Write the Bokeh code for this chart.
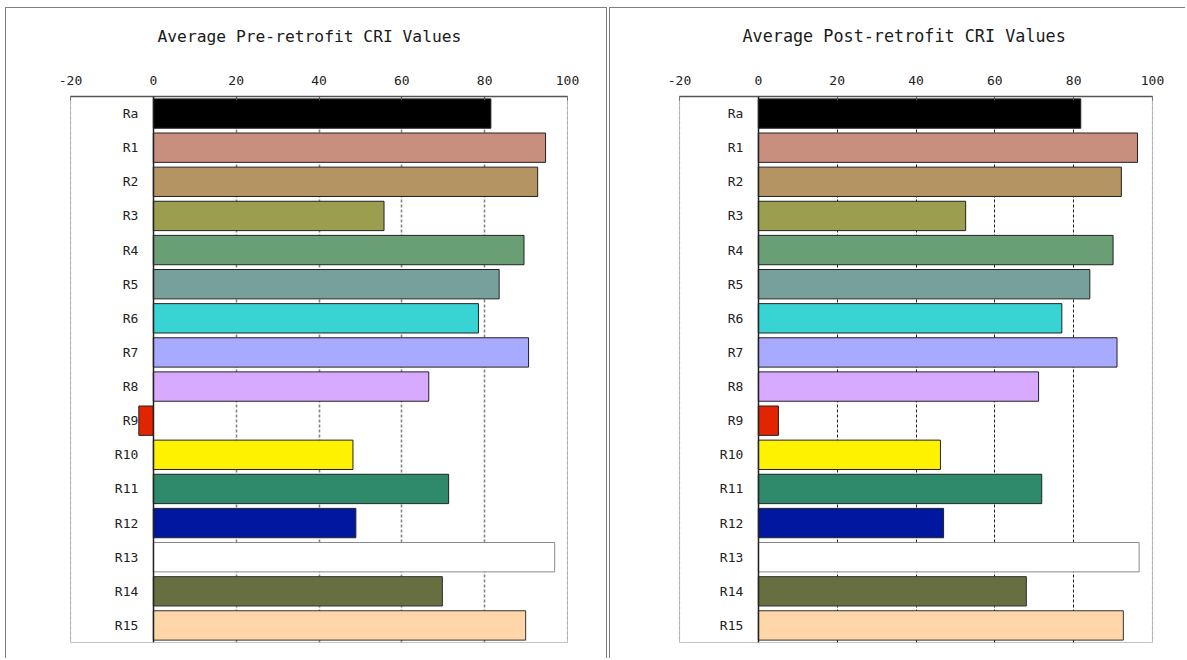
from bokeh.plotting import figure
from bokeh.models import FactorRange, Range1d, FixedTicker, Span, Title, ColumnDataSource
from bokeh.layouts import row
from bokeh.embed import file_html
from bokeh.resources import INLINE

categories = ["Ra", "R1", "R2", "R3", "R4", "R5", "R6", "R7", "R8",
              "R9", "R10", "R11", "R12", "R13", "R14", "R15"]
pre_values = [81.5, 94.7, 92.8, 55.7, 89.5, 83.5, 78.5, 90.6, 66.5,
              -3.5, 48.2, 71.3, 48.9, 96.9, 69.8, 89.9]
post_values = [81.8, 96.2, 92.1, 52.6, 90.0, 84.1, 77.0, 91.0, 71.1,
               5.1, 46.2, 71.9, 47.0, 96.6, 68.0, 92.6]
bar_colors = ["#000000", "#C88E7E", "#B39462", "#9A9E4E", "#6A9E74", "#78A09A",
              "#38D4D4", "#A8AAFF", "#D8AAFF", "#E32400", "#FFF200", "#2E8A6A",
              "#0018A0", "#FFFFFF", "#676E40", "#FFD6A8"]
bar_lines = ["#222222"] * 13 + ["#8a8a8a"] + ["#333333"] * 2
ticks = [-20, 0, 20, 40, 60, 80, 100]
tick_labels = ["-20", "0", "20", "40", "60", "80", "100"]
grid_ticks = [20, 40, 60, 80]
titles = ["Average Pre-retrofit CRI Values", "Average Post-retrofit CRI Values"]

FONT = "DejaVu Sans Mono"


def make_panel(title, values, width, height, borders, grid_color, grid_width,
               title_offset, title_size, styles):
    left_b, right_b, top_b, bottom_b = borders
    p = figure(width=width, height=height,
               y_range=FactorRange(factors=categories[::-1], range_padding=0),
               x_range=Range1d(ticks[0], ticks[-1]), x_axis_location="above",
               output_backend="svg", toolbar_location=None,
               min_border_left=left_b, min_border_right=right_b,
               min_border_top=top_b, min_border_bottom=bottom_b, styles=styles)
    src = ColumnDataSource(dict(
        y=categories,
        left=[min(0, v) for v in values],
        right=[max(0, v) for v in values],
        fill=bar_colors, line=bar_lines))
    p.hbar(y="y", left="left", right="right", height=0.86, source=src,
           fill_color="fill", line_color="line", line_width=1)

    p.outline_line_color = "#c4c4c4"
    p.background_fill_color = "white"
    p.border_fill_color = "white"

    # gridlines
    p.ygrid.grid_line_color = None
    p.xgrid.ticker = FixedTicker(ticks=grid_ticks)
    p.xgrid.grid_line_color = grid_color
    p.xgrid.grid_line_width = grid_width
    p.xgrid.grid_line_dash = "3 2"
    for loc in (ticks[0], ticks[-1]):
        p.add_layout(Span(location=loc, dimension="height", line_color="#9a9a9a",
                          line_dash="3 2", line_width=1.2))

    # top axis
    xa = p.xaxis[0]
    xa.ticker = FixedTicker(ticks=ticks)
    xa.major_label_overrides = {t: s for t, s in zip(ticks, tick_labels)}
    xa.axis_line_color = "#555555"
    xa.axis_line_width = 1.5
    xa.major_tick_in = 4
    xa.major_tick_out = 0
    xa.major_tick_line_color = "#555555"
    xa.minor_tick_line_color = None
    xa.major_label_standoff = 12
    xa.major_label_text_font = FONT
    xa.major_label_text_font_size = "13px"
    xa.major_label_text_color = "#222222"
    # blank spacer label between the tick labels and the title
    xa.axis_label = " "
    xa.axis_label_text_font_size = "8px"
    xa.axis_label_standoff = 12

    # category axis at zero
    ya = p.yaxis[0]
    ya.fixed_location = 0
    ya.axis_line_color = "#222222"
    ya.axis_line_width = 1.5
    ya.major_tick_line_color = None
    ya.minor_tick_line_color = None
    ya.major_label_standoff = 9
    ya.major_label_text_font = FONT
    ya.major_label_text_font_size = "13px"
    ya.major_label_text_color = "#222222"

    p.add_layout(Title(text=title, align="left", offset=title_offset, standoff=6,
                       text_font=FONT, text_font_size=title_size,
                       text_font_style="normal", text_color="#1a1a1a"), "above")
    return p


p1 = make_panel(titles[0], pre_values, 602, 651, (64, 41, 88, 5), "#858585", 1.6,
                87, "16.3px",
                {"margin-left": "5px", "margin-top": "7px",
                 "border-top": "1px solid #7f7f7f", "border-left": "1px solid #7f7f7f",
                 "border-right": "1px solid #7f7f7f"})
p2 = make_panel(titles[1], post_values, 576, 651, (69, 34, 88, 17), "#222222", 1.0,
                63, "16.8px",
                {"margin-top": "7px", "margin-left": "2px", "border-top": "1px solid #7f7f7f",
                 "border-left": "1px solid #7f7f7f"})

layout = row(p1, p2, spacing=0)
open("out.html", "w").write(file_html(layout, INLINE))
